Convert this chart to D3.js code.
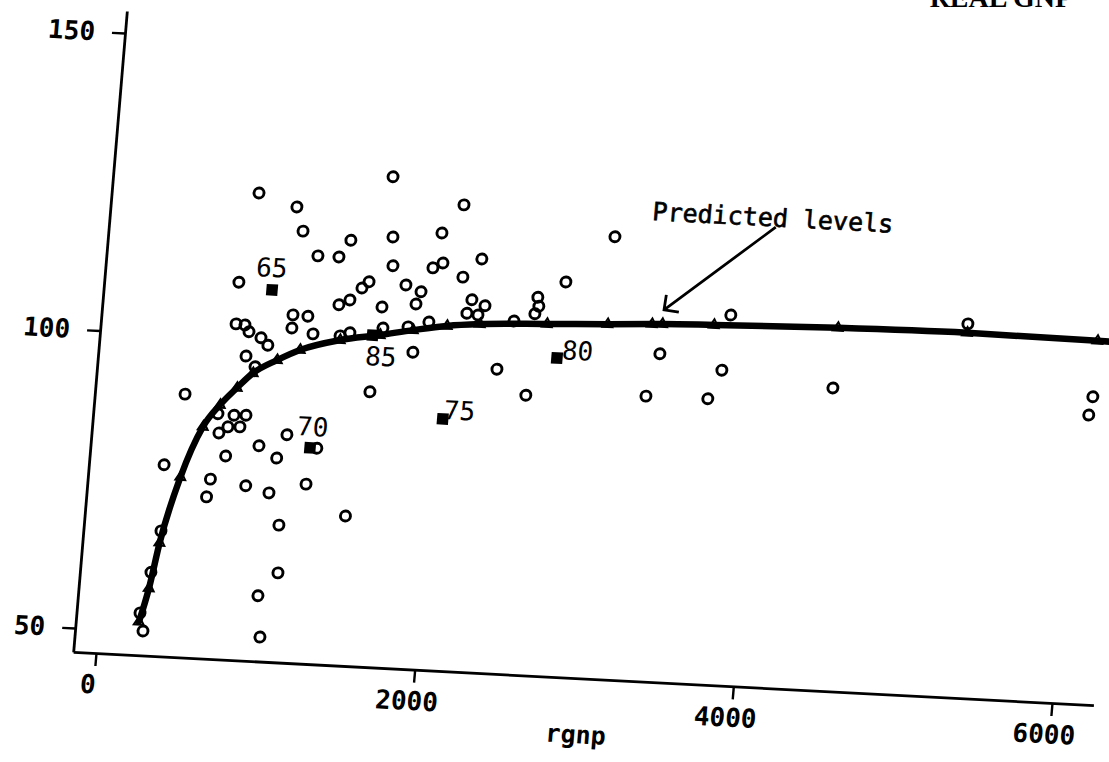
<!DOCTYPE html>
<html>
<head>
<meta charset="utf-8">
<script src="https://cdn.jsdelivr.net/npm/d3@7"></script>
<style>
  html, body { margin: 0; padding: 0; background: #fff; }
  svg { display: block; }
  text { font-family: "DejaVu Sans Mono", monospace; font-weight: bold; fill: #000; }
</style>
</head>
<body>
<svg id="chart" width="1109" height="762"></svg>
<script>
// observed levels against real GNP (rgnp)
const obsX = [254, 282, 301, 342, 327, 421, 609, 624, 637, 738, 813, 781, 706, 653, 707, 848, 910, 997,
    1027, 1076, 1095, 982, 1016, 1079, 1224, 1273, 1487, 1575, 2551, 778, 1022, 1073, 1377, 1179, 1311,
    1607, 1638, 1653, 699, 1512, 1471, 1402, 1336, 1606, 1054, 1054, 1148, 1189, 703, 759, 788, 866, 913,
    782, 844, 1419, 2065, 1942, 2205, 1964, 1904, 2096, 2742, 1744, 1842, 1817, 2164, 2249, 2140, 2210,
    2575, 2586, 2565, 2438, 1907, 1779, 1823, 2357, 3025, 3790, 5276, 3367, 3763, 3302, 3690, 4466,
    6095, 6079, 1623, 1359];
const obsY = [53.1, 50.1, 60.0, 67.0, 78.1, 90.1, 73.1, 76.1, 87.1, 87.0, 87.1, 85.1, 85.0, 83.9, 80.1, 75.3, 82.1, 74.3,
    80.2, 69.0, 61.0, 57.0, 50.1, 84.2, 76.1, 82.2, 71.1, 92.1, 92.9, 124.4, 122.4, 118.4, 117.3, 114.4, 114.4,
    128.3, 118.2, 113.4, 109.3, 110.5, 109.4, 107.3, 106.4, 106.4, 104.3, 102.1, 104.2, 101.3, 102.3, 102.2, 101.1, 100.2, 99.0,
    97.0, 95.3, 101.8, 124.2, 119.3, 115.3, 114.3, 113.4, 112.1, 112.2, 110.3, 109.3, 107.2, 108.4, 107.5, 106.1, 105.9,
    109.4, 107.9, 106.6, 105.2, 104.3, 103.3, 99.1, 97.0, 120.2, 108.1, 108.7, 101.0, 98.8, 93.8, 93.9, 96.8,
    97.6, 94.5, 102.9, 101.2];

// highlighted years (filled squares)
const yearLabels = ['65', '70', '75', '80', '85'];
const yearX = [910, 1230, 2044, 2726, 1562];
const yearY = [108.3, 82.2, 88.2, 99.4, 101.6];

// predicted levels
const predX = [252, 297, 340, 436, 550, 645, 742, 834, 978, 1116, 1361, 1608, 1812, 2022, 2227, 2646,
    3025, 3302, 3367, 3690, 4466, 5276, 6095, 6300];
const predY = [51.6, 57.3, 65.0, 76.2, 84.8, 88.6, 91.6, 94.2, 96.6, 98.5, 100.5, 101.7, 102.8, 103.8, 104.4, 105.0,
    105.5, 105.9, 106.0, 106.3, 106.9, 107.2, 107.0, 106.9];

const xTicks = [0, 2000, 4000, 6000];
const yTicks = [50, 100, 150];

const W = 956, H = 595;

const x = d3.scaleLinear().domain([0, 6000]).range([0, W]);
const y = d3.scaleLinear().domain([50, 150]).range([H, 0]);

const svg = d3.select('#chart');

// title, cut off at the top of the page
svg.append('text')
    .attr('x', 1072).attr('y', 7)
    .attr('text-anchor', 'end')
    .style('font-family', '"Liberation Serif", serif')
    .style('font-size', '28px')
    .text('REAL GNP');

// the scanned page is a bit skewed, one affine transform does it
const plot = svg.append('g')
    .attr('transform', 'matrix(1,0.05227,-0.0837,1,147.8,34.2)');

// axes
const xAxisScale = x.copy().domain([-143, 6260]).range([x(-143), x(6260)]);
const yAxisScale = y.copy().domain([46, 153.7]).range([y(46), y(153.7)]);

const gx = plot.append('g')
    .attr('transform', `translate(0,${y(46)})`)
    .call(d3.axisBottom(xAxisScale).tickValues(xTicks).tickFormat(d3.format('d'))
        .tickSize(13).tickSizeOuter(0).tickPadding(9));
gx.selectAll('text').attr('dx', -6);

const gy = plot.append('g')
    .attr('transform', `translate(${x(-143)},0)`)
    .call(d3.axisLeft(yAxisScale).tickValues(yTicks).tickSize(13).tickSizeOuter(0).tickPadding(17));

plot.selectAll('.domain').attr('stroke', '#000').attr('stroke-width', 2.8);
plot.selectAll('.tick line').attr('stroke', '#000').attr('stroke-width', 2.4);
plot.selectAll('.tick text')
    .style('font-family', '"DejaVu Sans Mono", monospace')
    .style('font-weight', 'bold')
    .style('font-size', '26px')
    .attr('fill', '#000');

plot.append('text')
    .attr('x', x(3040)).attr('y', y(35.1))
    .attr('text-anchor', 'middle')
    .style('font-size', '25px')
    .text('rgnp');

// observations
plot.append('g')
    .selectAll('circle')
    .data(obsX.map((d, i) => [d, obsY[i]]))
    .enter().append('circle')
    .attr('cx', d => x(d[0]))
    .attr('cy', d => y(d[1]))
    .attr('r', 5)
    .attr('fill', 'none')
    .attr('stroke', '#000')
    .attr('stroke-width', 2.9);

// year markers
const years = yearLabels.map((t, i) => ({ t: t, x: yearX[i], y: yearY[i] }));
const labelOffset = { '65': [-2, -13], '70': [1, -12], '75': [16, 0], '80': [20, 1], '85': [10, 30] };

plot.append('g')
    .selectAll('path')
    .data(years)
    .enter().append('path')
    .attr('transform', d => `translate(${x(d.x)},${y(d.y)})`)
    .attr('d', d3.symbol(d3.symbolSquare).size(130))
    .attr('fill', '#000');

plot.append('g')
    .selectAll('text')
    .data(years)
    .enter().append('text')
    .attr('x', d => x(d.x) + labelOffset[d.t][0])
    .attr('y', d => y(d.y) + labelOffset[d.t][1])
    .attr('text-anchor', 'middle')
    .style('font-size', '26px')
    .style('font-weight', 'normal')
    .text(d => d.t);

// predicted curve
const pred = predX.map((d, i) => [d, predY[i]]);
const line = d3.line()
    .x(d => x(d[0]))
    .y(d => y(d[1]))
    .curve(d3.curveMonotoneX);

plot.append('path')
    .datum(pred)
    .attr('d', line)
    .attr('fill', 'none')
    .attr('stroke', '#000')
    .attr('stroke-width', 6.5)
    .attr('stroke-linecap', 'round');

plot.append('g')
    .selectAll('path')
    .data(pred)
    .enter().append('path')
    .attr('transform', d => `translate(${x(d[0])},${y(d[1])})`)
    .attr('d', d3.symbol(d3.symbolTriangle).size(42))
    .attr('fill', 'none')
    .attr('stroke', '#000')
    .attr('stroke-width', 2);

// annotation
const arrowFrom = [4025, 123.2], arrowTo = [3370, 108.4];
const x1 = x(arrowFrom[0]), y1 = y(arrowFrom[1]), x2 = x(arrowTo[0]), y2 = y(arrowTo[1]);
const ang = Math.atan2(y1 - y2, x1 - x2);
const head = 15;
plot.append('path')
    .attr('d', `M${x1},${y1}L${x2},${y2}` +
        `M${x2 + head * Math.cos(ang + 0.8)},${y2 + head * Math.sin(ang + 0.8)}L${x2},${y2}` +
        `L${x2 + head * Math.cos(ang - 0.8)},${y2 + head * Math.sin(ang - 0.8)}`)
    .attr('fill', 'none')
    .attr('stroke', '#000')
    .attr('stroke-width', 2.8);

plot.append('text')
    .attr('x', x(3247)).attr('y', y(123.3))
    .style('font-size', '25px')
    .style('font-weight', 'normal')
    .style('stroke', '#000')
    .style('stroke-width', 0.6)
    .text('Predicted levels');
</script>
</body>
</html>
